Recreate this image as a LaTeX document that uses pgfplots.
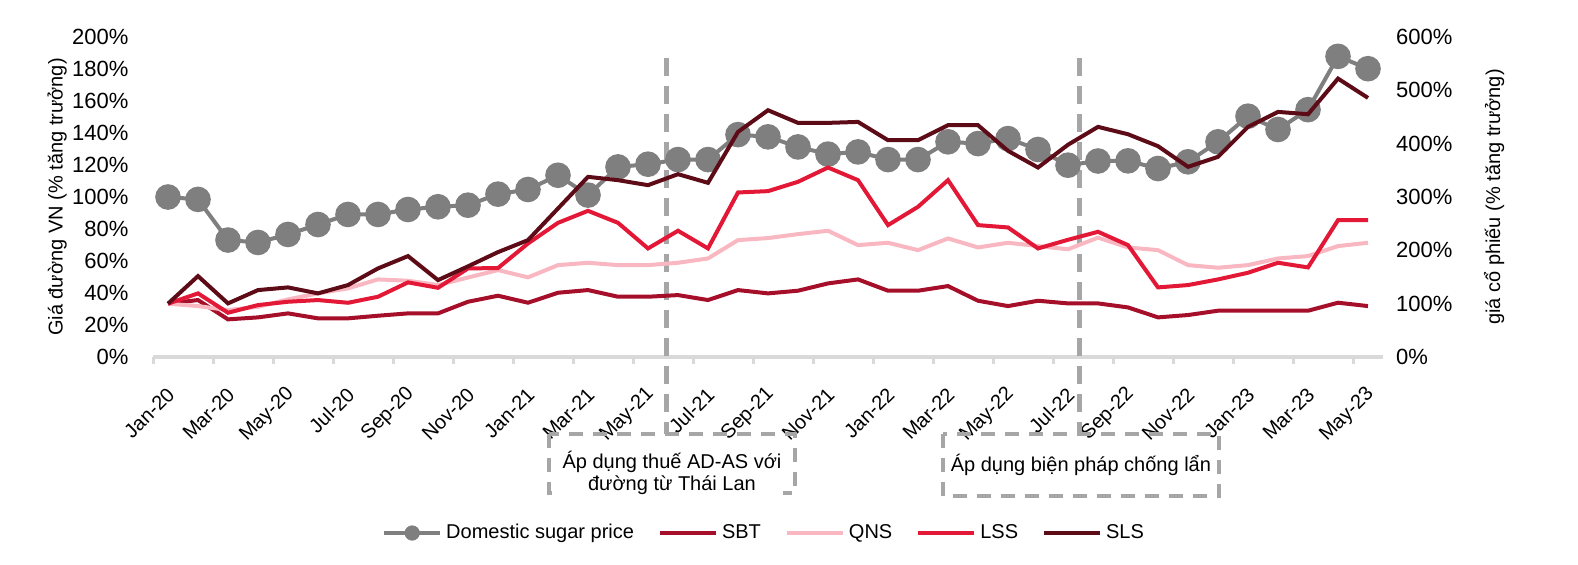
\documentclass[border=0pt]{standalone}
\usepackage{fontspec}
\setmainfont{Liberation Sans}
\usepackage{pgfplots}
\usepackage{pgfplotstable}
\pgfplotsset{compat=1.18}

\definecolor{cgrey}{HTML}{7F7F7F}
\definecolor{csbt}{HTML}{A50F2A}
\definecolor{cqns}{HTML}{F8B7C1}
\definecolor{clss}{HTML}{E31837}
\definecolor{csls}{HTML}{5E0B18}
\definecolor{caxis}{HTML}{D9D9D9}
\definecolor{cdash}{HTML}{A6A6A6}

\pgfplotstableread{
i v
0 100
1 98.5
2 73.1
3 71.6
4 76.6
5 82.8
6 89.1
7 89.1
8 92.2
9 93.9
10 94.9
11 101.8
12 104.7
13 113.6
14 101.2
15 118.8
16 120.5
17 123.4
18 123.4
19 139
20 137.6
21 131.3
22 126.8
23 128.2
24 123.4
25 123.4
26 134.5
27 133.4
28 136.5
29 129.7
30 119.9
31 122.5
32 122.6
33 117.8
34 122
35 134.5
36 150.5
37 142.2
38 154.6
39 187.9
40 180.2
}\sugar

\pgfplotstableread{
i sbt qns lss sls
0 100 100 100 100
1 106.8 95.5 119.3 151.7
2 70.6 88 83 100.5
3 74.3 94.2 97.4 125.5
4 81.8 108 103.6 130.5
5 72.5 119.3 106.8 119.3
6 72.5 128.7 101.7 134.9
7 77.4 145.5 113 166.1
8 81.8 143 139.9 189.2
9 81.8 134.9 129.8 144.2
10 103.6 149 166.1 170
11 114.9 163 166.8 196.7
12 101.8 149.3 212.9 219.2
13 120.5 172.3 251.6 278.5
14 125.5 176.7 274.1 337.8
15 113 172.3 251.6 331.6
16 113 172.3 203.6 322.2
17 116.1 176.7 236.7 342.8
18 106.8 184.8 203.6 326.6
19 125.5 219.2 308.5 422.1
20 119.3 223 311 462.7
21 124.3 230.4 328.5 439
22 138 236.7 355.3 439
23 145.5 209.8 331.6 440.8
24 124.3 214.2 247.3 406.5
25 124.3 200.4 281.6 406.5
26 133 222.3 331.6 434.6
27 105.5 205.4 247.3 434.6
28 95.5 214.2 242.9 386.5
29 105.5 208 203.6 355.3
30 100.5 202 219.8 398
31 100.5 223.8 234.8 431.5
32 93 205.4 209.8 417.7
33 74.3 200.4 130.5 395.3
34 78.7 172.3 134.9 356.6
35 86.8 167.4 145.5 375.3
36 86.8 172.3 158 431.5
37 86.8 184.8 176.7 459.6
38 86.8 189.2 168 455.2
39 101.8 208 256.6 522
40 95.5 214.2 256.6 485.8
}\stocks

\pgfplotsset{
  common/.style={
    scale only axis, width=615pt, height=160pt,
    at={(0,0)}, anchor=south west,
    xmin=-0.5, xmax=40.5,
    clip=false,
    tick label style={font=\fontsize{10}{12}\selectfont, text=black},
    yticklabel style={font=\fontsize{11}{13}\selectfont},
    label style={font=\fontsize{10}{12}\selectfont, text=black},
  },
}

\begin{document}
\begin{tikzpicture}
\useasboundingbox (-76.5pt,-103.5pt) rectangle (712.5pt,178.5pt);

\begin{axis}[common,
  ymin=0, ymax=200,
  axis x line*=bottom, axis y line*=left,
  x axis line style={caxis, line width=1.8pt, -},
  y axis line style={draw=none},
  ytick={0,20,...,200},
  yticklabels={0\%,20\%,40\%,60\%,80\%,100\%,120\%,140\%,160\%,180\%,200\%},
  ytick style={draw=none},
  yticklabel style={anchor=east, xshift=-4.5pt},
  xtick={0,2,...,40},
  xticklabels={Jan-20,Mar-20,May-20,Jul-20,Sep-20,Nov-20,Jan-21,Mar-21,May-21,Jul-21,Sep-21,Nov-21,Jan-22,Mar-22,May-22,Jul-22,Sep-22,Nov-22,Jan-23,Mar-23,May-23},
  major x tick style={draw=none},
  minor xtick={-0.5,1.5,...,39.5},
  minor x tick style={caxis, line width=1.5pt},
  minor tick length=3.5pt,
  tick align=outside,
  xticklabel style={rotate=45, anchor=east, xshift=-4.6pt, yshift=-10.1pt},
  every axis y label/.style={at={(axis description cs:-0.078,0.5)}, rotate=90, anchor=center},
  ylabel={Giá đường VN (\% tăng trưởng)},
]
\addplot[cgrey, line width=2pt, mark=*, mark size=5.4pt, mark options={fill=cgrey, draw=cgrey, solid}] table[x=i,y=v]{\sugar};

\draw[cdash, line width=2.6pt, dash pattern=on 9pt off 5pt] (axis cs:16.62,187) -- (axis cs:16.62,-48);
\draw[cdash, line width=2.6pt, dash pattern=on 9pt off 5pt] (axis cs:30.37,187) -- (axis cs:30.37,-48);

\draw[cdash, line width=2.4pt, dash pattern=on 7pt off 5pt] (axis cs:12.7,-48.1) rectangle (axis cs:20.9,-85);
\draw[cdash, line width=2.4pt, dash pattern=on 7pt off 5pt] (axis cs:25.83,-48.1) rectangle (axis cs:35.03,-86.9);

\node[align=center, font=\fontsize{10}{11}\selectfont, fill=white, inner sep=1pt] at (axis cs:16.8,-72.5) {Áp dụng thuế AD-AS với\\đường từ Thái Lan};
\node[font=\fontsize{10}{11}\selectfont, fill=white, inner sep=1pt] at (axis cs:30.43,-67.5) {Áp dụng biện pháp chống lẩn};
\end{axis}

\begin{axis}[common,
  ymin=0, ymax=600,
  axis x line=none, axis y line*=right,
  y axis line style={draw=none},
  ytick={0,100,...,600},
  yticklabels={0\%,100\%,200\%,300\%,400\%,500\%,600\%},
  ytick style={draw=none},
  yticklabel style={anchor=west, xshift=3pt},
  every axis y label/.style={at={(axis description cs:1.0903,0.5)}, rotate=90, anchor=center},
  ylabel={giá cổ phiếu (\% tăng trưởng)},
  legend columns=5,
  legend style={at={(axis description cs:0.4976,-0.55)}, anchor=center, draw=none, fill=none,
    font=\fontsize{10}{12}\selectfont,
    /tikz/every even column/.append style={column sep=10pt}},
  legend image code/.code={\draw[#1] (0pt,0pt) -- (28pt,0pt);},
]
\addlegendimage{legend image code/.code={\draw[cgrey, line width=2pt] (0pt,0pt) -- (28pt,0pt); \fill[cgrey] (14pt,0pt) circle (3.6pt);}}
\addlegendentry{Domestic sugar price}
\addplot[csbt, line width=2pt] table[x=i,y=sbt]{\stocks};
\addlegendentry{SBT}
\addplot[cqns, line width=2pt] table[x=i,y=qns]{\stocks};
\addlegendentry{QNS}
\addplot[clss, line width=2pt] table[x=i,y=lss]{\stocks};
\addlegendentry{LSS}
\addplot[csls, line width=2pt] table[x=i,y=sls]{\stocks};
\addlegendentry{SLS}
\end{axis}
\end{tikzpicture}
\end{document}
